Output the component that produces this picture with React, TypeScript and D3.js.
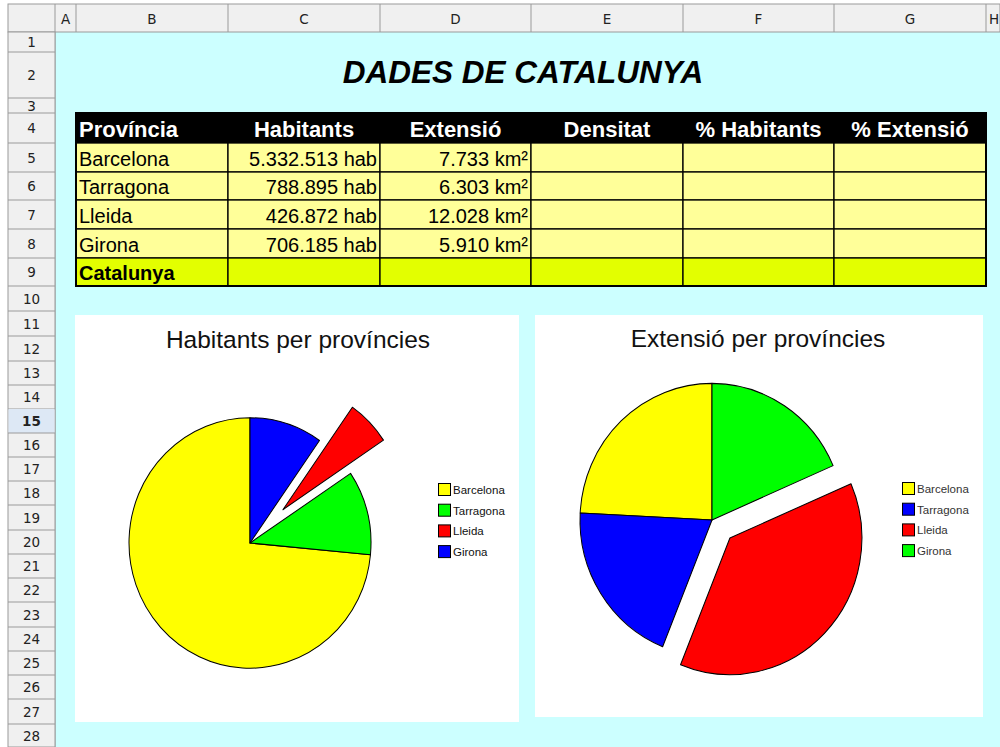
import React from 'react';
import * as d3 from 'd3';

// dades
const provinces = ['Barcelona', 'Tarragona', 'Lleida', 'Girona'];
const habitants = [5332513, 788895, 426872, 706185];
const extensio = [7733, 6303, 12028, 5910];
const headers = ['Província', 'Habitants', 'Extensió', 'Densitat', '% Habitants', '% Extensió'];
const totalLabel = 'Catalunya';
const columnLetters = ['A', 'B', 'C', 'D', 'E', 'F', 'G', 'H'];
const habColors = ['#ffff00', '#00ff00', '#ff0000', '#0000ff'];
const extColors = ['#ffff00', '#0000ff', '#ff0000', '#00ff00'];

// grid of the sheet (pixels)
const colEdges = [55, 76, 228, 380, 531, 683, 834, 986, 1060];
const rowEdges = [32, 52, 98, 113, 143, 172, 200, 229, 258, 286, 311, 336, 361, 385, 409, 433, 457, 481, 505, 530, 554, 578, 602, 627, 651, 675, 699, 724, 748];

const FONT = '"Liberation Sans", Arial, sans-serif';
const fmt = d3.formatLocale({ decimal: ',', thousands: '.', grouping: [3], currency: ['', ''] }).format(',d');

const rowTop = (r: number) => rowEdges[r - 1];
const rowBottom = (r: number) => rowEdges[r];

type PieProps = {
  values: number[];
  colors: string[];
  cx: number;
  cy: number;
  r: number;
  explode: number;
  title: string;
  titleX: number;
  titleY: number;
  legendX: number;
  legendY: number;
  legendFill: string;
};

const PieChart = ({ values, colors, cx, cy, r, explode, title, titleX, titleY, legendX, legendY, legendFill }: PieProps) => {
  const pie = d3.pie<number>().sort(null).startAngle(0).endAngle(-2 * Math.PI);
  const arc = d3.arc<d3.PieArcDatum<number>>().innerRadius(0).outerRadius(r);
  const arcs = pie(values);
  const legendY0 = d3.scaleLinear().domain([0, 1]).range([legendY, legendY + 20.7]);

  return (
    <g>
      <text x={titleX} y={titleY} textAnchor="middle" fontFamily={FONT} fontSize={24.5} fill="#111">
        {title}
      </text>
      <g transform={`translate(${cx},${cy}) scale(1,1.035)`}>
        {arcs.map((a, i) => {
          const mid = (a.startAngle + a.endAngle) / 2;
          const off = provinces[i] === 'Lleida' ? explode : 0;
          return (
            <path
              key={i}
              d={arc(a) || ''}
              transform={`translate(${Math.sin(mid) * off},${-Math.cos(mid) * off})`}
              fill={colors[i]}
              stroke="#000"
              strokeWidth={1}
              strokeLinejoin="round"
            />
          );
        })}
      </g>
      {provinces.map((p, i) => (
        <g key={p} transform={`translate(${legendX},${legendY0(i)})`}>
          <rect x={0.5} y={0.5} width={12} height={12} fill={colors[i]} stroke="#000" strokeWidth={1} />
          <text x={15} y={11} fontFamily={FONT} fontSize={11.5} fill={legendFill}>
            {p}
          </text>
        </g>
      ))}
    </g>
  );
};

const App = () => {
  const tableRows = provinces.map((p, i) => ({ name: p, hab: `${fmt(habitants[i])} hab`, ext: `${fmt(extensio[i])} km²` }));

  return (
    <svg width={1000} height={747} style={{ position: 'absolute', left: 0, top: 0, display: 'block' }}>
      <rect width={1000} height={747} fill="#ffffff" />
      {/* cells background */}
      <rect x={55} y={32} width={945} height={715} fill="#ccffff" />

      {/* column headers */}
      <rect x={8} y={4} width={992} height={28} fill="#f0f0f0" stroke="#9a9a9a" />
      <line x1={55} x2={55} y1={4} y2={747} stroke="#9a9a9a" />
      {columnLetters.map((c, i) => (
        <g key={c}>
          <line x1={colEdges[i + 1]} x2={colEdges[i + 1]} y1={4} y2={32} stroke="#9a9a9a" />
          <text
            x={i === 7 ? 994 : (colEdges[i] + colEdges[i + 1]) / 2}
            y={24}
            textAnchor="middle"
            fontFamily='"DejaVu Sans", sans-serif'
            fontSize={13.5}
            fill="#222"
          >
            {c}
          </text>
        </g>
      ))}

      {/* row headers */}
      <rect x={8} y={32} width={47} height={715} fill="#f0f0f0" stroke="#9a9a9a" />
      {rowEdges.slice(0, -1).map((y, i) => (
        <g key={i}>
          {i === 14 && <rect x={8.5} y={y} width={46} height={rowEdges[i + 1] - y} fill="#dde8f5" />}
          <line x1={8} x2={55} y1={rowEdges[i + 1]} y2={rowEdges[i + 1]} stroke="#9a9a9a" />
          <text
            x={31.5}
            y={(y + rowEdges[i + 1]) / 2 + 5}
            textAnchor="middle"
            fontFamily='"DejaVu Sans", sans-serif'
            fontSize={13.5}
            fontWeight={i === 14 ? 'bold' : 'normal'}
            fill="#222"
          >
            {i + 1}
          </text>
        </g>
      ))}

      {/* title */}
      <text x={523} y={83} textAnchor="middle" fontFamily={FONT} fontSize={31.5} fontWeight="bold" fontStyle="italic" fill="#000">
        DADES DE CATALUNYA
      </text>

      {/* table header */}
      <rect x={colEdges[1]} y={rowTop(4)} width={colEdges[7] - colEdges[1]} height={rowBottom(4) - rowTop(4)} fill="#000" />
      {headers.map((h, i) => (
        <text
          key={h}
          x={i === 0 ? colEdges[1] + 3 : (colEdges[i + 1] + colEdges[i + 2]) / 2}
          y={rowBottom(4) - 6}
          textAnchor={i === 0 ? 'start' : 'middle'}
          fontFamily={FONT}
          fontSize={22}
          fontWeight="bold"
          fill="#fff"
        >
          {h}
        </text>
      ))}

      {/* table body */}
      {[...tableRows, { name: totalLabel, hab: '', ext: '' }].map((row, r) => {
        const y0 = rowTop(5 + r);
        const y1 = rowBottom(5 + r);
        const isTotal = r === tableRows.length;
        return (
          <g key={row.name}>
            {d3.range(6).map((c) => (
              <rect
                key={c}
                x={colEdges[c + 1]}
                y={y0}
                width={colEdges[c + 2] - colEdges[c + 1]}
                height={y1 - y0}
                fill={isTotal ? '#e3ff00' : '#ffff99'}
                stroke="#000"
                strokeWidth={1.3}
              />
            ))}
            <text x={colEdges[1] + 3} y={y1 - 6} fontFamily={FONT} fontSize={20} fontWeight={isTotal ? 'bold' : 'normal'} fill="#000">
              {row.name}
            </text>
            <text x={colEdges[3] - 3} y={y1 - 6} textAnchor="end" fontFamily={FONT} fontSize={20} fill="#000">
              {row.hab}
            </text>
            <text x={colEdges[4] - 3} y={y1 - 6} textAnchor="end" fontFamily={FONT} fontSize={20} fill="#000">
              {row.ext}
            </text>
          </g>
        );
      })}
      <rect
        x={colEdges[1]}
        y={rowTop(4)}
        width={colEdges[7] - colEdges[1]}
        height={rowBottom(9) - rowTop(4)}
        fill="none"
        stroke="#000"
        strokeWidth={2}
      />

      {/* charts */}
      <rect x={75} y={315} width={444} height={407} fill="#fff" />
      <rect x={535} y={315} width={448} height={402} fill="#fff" />

      <PieChart
        values={habitants}
        colors={habColors}
        cx={250}
        cy={543}
        r={121}
        explode={46}
        title="Habitants per províncies"
        titleX={298}
        titleY={348}
        legendX={438}
        legendY={483}
        legendFill="#111"
      />
      <PieChart
        values={extensio}
        colors={extColors}
        cx={712}
        cy={520}
        r={132}
        explode={25}
        title="Extensió per províncies"
        titleX={758}
        titleY={347}
        legendX={902}
        legendY={482}
        legendFill="#333"
      />
    </svg>
  );
};

export default App;
